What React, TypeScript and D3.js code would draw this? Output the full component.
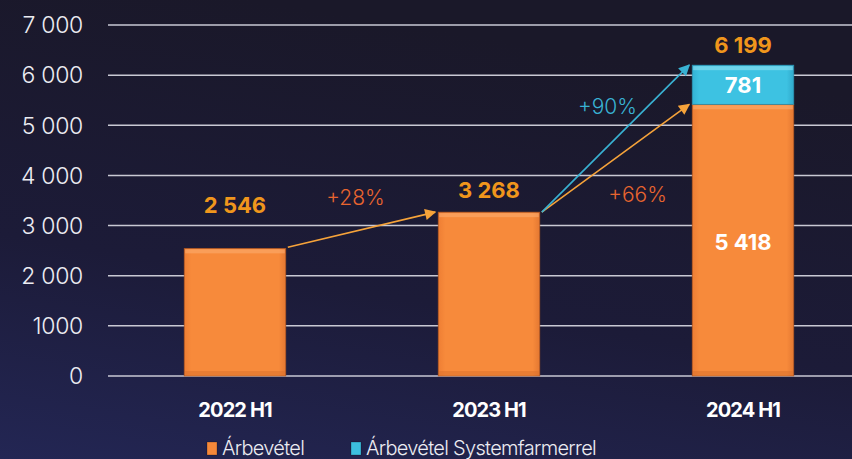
import React from 'react';
import * as d3 from 'd3';

const categories = ['2022 H1', '2023 H1', '2024 H1'];
const arbevetel = [2546, 3268, 5418];
const systemfarmer = [0, 0, 781];
const totalLabels = ['2 546', '3 268', '6 199'];
const tickValues = [0, 1000, 2000, 3000, 4000, 5000, 6000, 7000];
const tickLabels = ['0', '1000', '2 000', '3 000', '4 000', '5 000', '6 000', '7 000'];
const growth = [
  { from: 0, to: 1, toValue: 3268, label: '+28%', color: '#f6a33a', textColor: '#e8652f' },
  { from: 1, to: 2, toValue: 5418, label: '+66%', color: '#f6a33a', textColor: '#e8652f' },
  { from: 1, to: 2, toValue: 6199, label: '+90%', color: '#39b2d3', textColor: '#39b2d3' },
];
const legendItems = [
  { name: 'Árbevétel', color: '#f5883a' },
  { name: 'Árbevétel Systemfarmerrel', color: '#3cbfdf' },
];

const W = 852;
const H = 459;
const FONT = 'Inter, Lato, "Open Sans", sans-serif';

export default function App() {
  const x = d3.scaleBand().domain(categories).range([108, 870]).paddingInner(0.6).paddingOuter(0.3);
  const y = d3.scaleLinear().domain([0, 7000]).range([376, 25]);
  const bw = x.bandwidth();
  const fmt = d3.formatLocale({ decimal: ',', thousands: ' ', grouping: [3], currency: ['', ''] }).format(',');

  // gap between bar top and the total label
  const totalOffset = [43, 22, 20];
  // growth label positions relative to the arrow midpoint
  const labelOffset = [
    { dx: -6, dy: -32 },
    { dx: 22, dy: 36 },
    { dx: -8, dy: -32 },
  ];

  return (
    <svg width={W} height={H} style={{ position: 'absolute', left: 0, top: 0, display: 'block' }}>
      <defs>
        <linearGradient id="bg" x1="0.3" y1="0" x2="0" y2="1">
          <stop offset="0" stopColor="#1a1829" />
          <stop offset="0.55" stopColor="#1c1b38" />
          <stop offset="1" stopColor="#232654" />
        </linearGradient>
        <linearGradient id="orangeFill" x1="0" y1="0" x2="1" y2="0">
          <stop offset="0" stopColor="#ee7e34" />
          <stop offset="0.07" stopColor="#f78a3b" />
          <stop offset="0.93" stopColor="#f78a3b" />
          <stop offset="1" stopColor="#e47832" />
        </linearGradient>
        <linearGradient id="cyanFill" x1="0" y1="0" x2="1" y2="0">
          <stop offset="0" stopColor="#33b2d4" />
          <stop offset="0.07" stopColor="#3dc2e2" />
          <stop offset="0.93" stopColor="#3dc2e2" />
          <stop offset="1" stopColor="#30a9cb" />
        </linearGradient>
        {growth.map((g, i) => (
          <marker key={i} id={`arrow${i}`} viewBox="0 0 10 10" refX="9" refY="5" markerWidth="8" markerHeight="7" orient="auto">
            <path d="M0,0 L10,5 L0,10 z" fill={g.color} />
          </marker>
        ))}
      </defs>
      <rect width={W} height={H} fill="url(#bg)" />

      {/* grid + y ticks */}
      {tickValues.map((v, i) => (
        <g key={v}>
          <line x1={108} x2={W} y1={y(v)} y2={y(v)} stroke="#c9c9d4" strokeWidth={1.5} />
          <text x={83} y={y(v)} dy="0.36em" textAnchor="end" fill="#ececf2" fontFamily={FONT} fontWeight={300} fontSize={23} letterSpacing={-0.3}>
            {tickLabels[i]}
          </text>
        </g>
      ))}

      {/* bars */}
      {categories.map((c, i) => {
        const x0 = x(c)!;
        const yo = y(arbevetel[i]);
        const yc = y(arbevetel[i] + systemfarmer[i]);
        return (
          <g key={c}>
            <rect x={x0} y={yo} width={bw} height={y(0) - yo} fill="url(#orangeFill)" stroke="#a9521f" strokeWidth={0.7} />
            <rect x={x0 + 1} y={yo + 1} width={bw - 2} height={4} fill="#fbab6e" opacity={0.6} />
            <rect x={x0 + 1} y={y(0) - 5} width={bw - 2} height={4} fill="#d96f2b" opacity={0.5} />
            {systemfarmer[i] > 0 && (
              <g>
                <rect x={x0} y={yc} width={bw} height={yo - yc} fill="url(#cyanFill)" stroke="#2a8fae" strokeWidth={0.7} />
                <rect x={x0 + 1} y={yc + 1} width={bw - 2} height={4} fill="#8fe0f2" opacity={0.6} />
                <text x={x0 + bw / 2} y={(yc + yo) / 2} dy="0.36em" textAnchor="middle" fill="#ffffff" fontFamily={FONT} fontWeight={700} fontSize={22}>
                  {fmt(systemfarmer[i])}
                </text>
                <text x={x0 + bw / 2} y={y(arbevetel[i]) + 138} dy="0.36em" textAnchor="middle" fill="#ffffff" fontFamily={FONT} fontWeight={700} fontSize={22}>
                  {fmt(arbevetel[i])}
                </text>
              </g>
            )}
            <text x={x0 + bw / 2} y={yc - totalOffset[i]} dy="0.36em" textAnchor="middle" fill="#f0961c" fontFamily={FONT} fontWeight={700} fontSize={22}>
              {totalLabels[i]}
            </text>
            <text x={x0 + bw / 2} y={410} dy="0.36em" textAnchor="middle" fill="#ffffff" fontFamily={FONT} fontWeight={700} fontSize={20} letterSpacing={-0.9}>
              {c}
            </text>
          </g>
        );
      })}

      {/* growth arrows */}
      {growth.map((g, i) => {
        const fromC = categories[g.from];
        const toC = categories[g.to];
        const fromV = arbevetel[g.from] + systemfarmer[g.from];
        const x1 = x(fromC)! + bw + 2;
        const y1 = y(fromV) + (g.from === 0 ? -1 : 0);
        const x2 = x(toC)! - 3;
        const y2 = y(g.toValue);
        const mx = (x1 + x2) / 2 + labelOffset[i].dx;
        const my = (y1 + y2) / 2 + labelOffset[i].dy;
        return (
          <g key={i}>
            <line x1={x1} y1={y1} x2={x2} y2={y2} stroke={g.color} strokeWidth={1.6} markerEnd={`url(#arrow${i})`} />
            <text x={mx} y={my} dy="0.36em" textAnchor="middle" fill={g.textColor} fontFamily={FONT} fontWeight={300} fontSize={21}>
              {g.label}
            </text>
          </g>
        );
      })}

      {/* legend */}
      {legendItems.map((l, i) => {
        const lx = i === 0 ? 207 : 351;
        return (
          <g key={l.name}>
            <rect x={lx} y={442} width={10} height={13} fill={l.color} stroke="#00000066" strokeWidth={0.6} />
            <text x={lx + 15} y={455} fill="#ececf2" fontFamily={FONT} fontWeight={300} fontSize={20} letterSpacing={-0.7}>
              {l.name}
            </text>
          </g>
        );
      })}
    </svg>
  );
}
